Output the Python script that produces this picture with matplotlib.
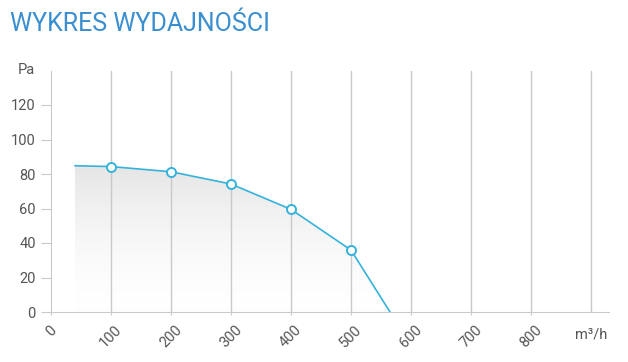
import matplotlib.pyplot as plt
import numpy as np
from matplotlib.patches import Polygon

# curve data (m3/h, Pa)
flow = [40, 100, 200, 300, 400, 500, 565]
pressure = [84.8, 84.3, 81.3, 74.2, 59.5, 35.9, 0]
marker_flow = [100, 200, 300, 400, 500]
marker_pressure = [84.3, 81.3, 74.2, 59.5, 35.9]

x_ticks = [0, 100, 200, 300, 400, 500, 600, 700, 800]
y_ticks = [0, 20, 40, 60, 80, 100, 120]

line_col = '#35b2dc'
grid_col = '#c9c9c9'
text_col = '#555555'

plt.rcParams['font.family'] = ['Roboto', 'DejaVu Sans']

fig = plt.figure(figsize=(6.28, 3.62), dpi=100)
ax = fig.add_axes([51 / 628, 50 / 362, 558 / 628, 241.5 / 362])
ax.set_xlim(0, 930)
ax.set_ylim(0, 140)

# gradient fill under the curve
poly = Polygon(list(zip(flow, pressure)) + [(flow[-1], 0), (flow[0], 0)],
               closed=True, facecolor='none', edgecolor='none')
ax.add_patch(poly)
grad = np.linspace(0, 1, 256).reshape(-1, 1)
vals = 1.0 - 0.10 * grad ** 1.6
img = ax.imshow(np.dstack([vals, vals, vals]), extent=[flow[0], flow[-1], 0, max(pressure)],
                origin='lower', aspect='auto', zorder=1)
img.set_clip_path(poly)

for x in x_ticks[1:] + [900]:
    ax.axvline(x, color=grid_col, lw=1.0, zorder=2)

ax.plot(flow, pressure, color=line_col, lw=1.2, zorder=3)
ax.plot(marker_flow, marker_pressure, 'o', ms=6.5, mfc='white', mec=line_col, mew=1.4, zorder=4)

for s in ['top', 'right']:
    ax.spines[s].set_visible(False)
ax.spines['left'].set_color(grid_col)
ax.spines['bottom'].set_color(grid_col)
ax.spines['bottom'].set_bounds(0, 930)

ax.set_yticks(y_ticks)
ax.set_yticklabels([str(v) for v in y_ticks])
ax.tick_params(axis='y', length=7, color=grid_col, labelcolor=text_col, labelsize=10.5, pad=4)
ax.set_xticks(x_ticks)
ax.set_xticklabels([str(v) for v in x_ticks], rotation=45, ha='center')
ax.tick_params(axis='x', length=2, color=grid_col, labelcolor=text_col, labelsize=10.5, pad=6)

ax.text(-16 / 0.6, 140, 'Pa', ha='right', va='center', color=text_col, fontsize=10.5)
ax.text(900, -9, 'm³/h', ha='center', va='top', color=text_col, fontsize=10.5)

fig.text(10 / 628, 1 - 24 / 362, 'WYKRES WYDAJNOŚCI', color='#3a8fd1',
         fontsize=18, va='center', ha='left')

fig.savefig('out.png', dpi=100)
